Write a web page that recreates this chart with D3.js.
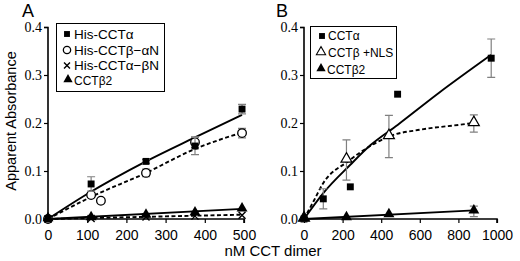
<!DOCTYPE html>
<html>
<head>
<meta charset="utf-8">
<script src="https://cdn.jsdelivr.net/npm/d3@7"></script>
<style>
  body { margin: 0; background: #fff; }
  svg { display: block; }
</style>
</head>
<body>
<div id="chart"></div>
<script>
// ---------- panel A data ----------
const concA = [0, 110, 250, 375, 495];
const hisAlpha = [0, 0.073, 0.12, 0.152, 0.229];
const hisAlphaErr = [0, 0.015, 0.004, 0.018, 0.01];
const concBetaAlphaN = [0, 110, 135, 250, 375, 495];
const hisBetaAlphaN = [0, 0.05, 0.038, 0.096, 0.16, 0.179];
const hisBetaAlphaNErr = [0, 0, 0, 0.008, 0.011, 0.01];
const hisAlphaBetaN = [0, 0.001, 0.004, 0.006, 0.008];
const beta2A = [0, 0.002, 0.007, 0.012, 0.02];

// fitted curves
const fitAlphaAX = [0, 100, 250, 375, 495];
const fitAlphaAY = [0, 0.052, 0.12, 0.17, 0.217];
const fitBetaAlphaNX = [0, 110, 250, 375, 495];
const fitBetaAlphaNY = [0, 0.046, 0.096, 0.146, 0.18];
const fitAlphaBetaNX = [0, 495];
const fitAlphaBetaNY = [0, 0.009];
const fitBeta2AX = [0, 495];
const fitBeta2AY = [0, 0.021];

// ---------- panel B data ----------
const concAlphaB = [0, 100, 240, 485, 970];
const alphaB = [0, 0.042, 0.067, 0.26, 0.335];
const alphaBErr = [0, 0.021, 0, 0, 0.04];
const concB = [0, 220, 440, 880];
const betaNlsB = [0, 0.123, 0.172, 0.199];
const betaNlsBErr = [0, 0.042, 0.044, 0.018];
const beta2B = [0, 0.002, 0.008, 0.016];
const beta2BErr = [0, 0, 0, 0.011];

const fitAlphaBX = [0, 100, 240, 345, 485, 700, 970];
const fitAlphaBY = [0, 0.054, 0.113, 0.154, 0.196, 0.263, 0.342];
const fitNlsBX = [0, 47, 100, 228, 327, 447, 600, 800, 880];
const fitNlsBY = [0, 0.035, 0.075, 0.12, 0.148, 0.173, 0.186, 0.196, 0.2];
const fitBeta2BX = [0, 880];
const fitBeta2BY = [0, 0.018];

const yTicks = [0, 0.1, 0.2, 0.3, 0.4];
const xTicksA = [0, 100, 200, 300, 400, 500];
const xTicksB = [0, 200, 400, 600, 800, 1000];

const serif = "'Liberation Serif', 'Times New Roman', serif";
const sans = "'Liberation Sans', Arial, sans-serif";

const w = 520, h = 261;
const svg = d3.select("#chart").append("svg").attr("width", w).attr("height", h);

const sq = d3.symbol().type(d3.symbolSquare).size(48);
const tri = d3.symbol().type(d3.symbolTriangle).size(52);

function zip(xs, ys, es) {
  return xs.map((x, i) => ({x: x, y: ys[i], e: es ? es[i] : 0}));
}

function panel(opts) {
  const g = svg.append("g");
  const x = d3.scaleLinear().domain(opts.xdom).range(opts.xrange);
  const y = d3.scaleLinear().domain([0, 0.4]).range([219, 27]);

  const yAxis = d3.axisLeft(y).tickValues(yTicks).tickFormat(d3.format(".1f")).tickSize(4).tickPadding(2);
  const xAxis = d3.axisBottom(x).tickValues(opts.xticks).tickFormat(d3.format("d")).tickSize(4).tickPadding(7);

  const ya = g.append("g").attr("transform", "translate(" + opts.xrange[0] + ",0)").call(yAxis);
  const xa = g.append("g").attr("transform", "translate(0,219)").call(xAxis);
  ya.attr("font-family", serif).attr("font-size", 14);
  xa.attr("font-family", sans).attr("font-size", 14);
  ya.selectAll("text").style("font-family", serif).style("font-size", "14px");
  xa.selectAll("text").style("font-family", sans).style("font-size", "14px");

  g.selectAll(".domain").attr("stroke", "#000").attr("stroke-width", 1.6);
  g.selectAll(".tick line").attr("stroke", "#000").attr("stroke-width", 1.2);
  g.selectAll(".tick text").attr("fill", "#000");
  ya.select(".domain").attr("d", "M-4,27.5H0V219.5");
  xa.select(".domain").attr("d", "M" + opts.xrange[0] + ",0H" + opts.xrange[1] + "V4");

  const line = d3.line().x(d => x(d.x)).y(d => y(d.y)).curve(d3.curveMonotoneX);

  // fit curves
  opts.fits.forEach(f => {
    g.append("path")
      .datum(zip(f.xs, f.ys))
      .attr("d", line)
      .attr("fill", "none")
      .attr("stroke", "#000")
      .attr("stroke-width", 1.9)
      .attr("stroke-dasharray", f.dash ? "4,2.5" : null);
  });

  // error bars + markers
  opts.series.forEach(s => {
    const pts = zip(s.xs, s.ys, s.es);
    pts.filter(p => p.e > 0).forEach(p => {
      const px = x(p.x);
      g.append("path")
        .attr("d", "M" + (px - 4) + "," + y(p.y + p.e) + "H" + (px + 4) +
                   "M" + px + "," + y(p.y + p.e) + "V" + y(p.y - p.e) +
                   "M" + (px - 4) + "," + y(p.y - p.e) + "H" + (px + 4))
        .attr("stroke", "#808080")
        .attr("stroke-width", 1.2)
        .attr("fill", "none");
    });
    pts.forEach(p => drawMarker(g, s.mark, x(p.x), y(p.y), 1));
  });

  g.append("text")
    .attr("x", opts.letterX).attr("y", 17)
    .style("font-family", sans)
    .style("font-size", "18px")
    .text(opts.letter);

  return g;
}

function drawMarker(g, mark, px, py, k) {
  if (mark === "square") {
    g.append("path").attr("d", sq).attr("transform", "translate(" + px + "," + py + ") scale(" + k + ")").attr("fill", "#000");
  } else if (mark === "circle") {
    g.append("circle").attr("cx", px).attr("cy", py).attr("r", 4.3 * k)
      .attr("fill", "#fff").attr("stroke", "#000").attr("stroke-width", 1.3);
  } else if (mark === "cross") {
    const r = 3.5 * k;
    g.append("path").attr("d", "M" + (px - r) + "," + (py - r) + "l" + 2 * r + "," + 2 * r + "M" + (px + r) + "," + (py - r) + "l" + -2 * r + "," + 2 * r)
      .attr("stroke", "#000").attr("stroke-width", 1.4);
  } else if (mark === "tri") {
    g.append("path").attr("d", tri).attr("transform", "translate(" + px + "," + (py - 1) + ") scale(" + k + ")").attr("fill", "#000");
  } else if (mark === "opentri") {
    g.append("path").attr("d", tri).attr("transform", "translate(" + px + "," + (py - 1) + ") scale(" + k + ")")
      .attr("fill", "#fff").attr("stroke", "#000").attr("stroke-width", 1.2);
  }
}

panel({
  letter: "A", letterX: 22,
  xdom: [0, 500], xrange: [48, 244], xticks: xTicksA,
  fits: [
    {xs: fitBeta2AX, ys: fitBeta2AY},
    {xs: fitAlphaBetaNX, ys: fitAlphaBetaNY, dash: true},
    {xs: fitBetaAlphaNX, ys: fitBetaAlphaNY, dash: true},
    {xs: fitAlphaAX, ys: fitAlphaAY}
  ],
  series: [
    {xs: concBetaAlphaN, ys: hisBetaAlphaN, es: hisBetaAlphaNErr, mark: "circle"},
    {xs: concA, ys: hisAlpha, es: hisAlphaErr, mark: "square"},
    {xs: concA, ys: hisAlphaBetaN, mark: "cross"},
    {xs: concA, ys: beta2A, mark: "tri"}
  ]
});

panel({
  letter: "B", letterX: 276,
  xdom: [0, 1000], xrange: [304, 497], xticks: xTicksB,
  fits: [
    {xs: fitBeta2BX, ys: fitBeta2BY},
    {xs: fitNlsBX, ys: fitNlsBY, dash: true},
    {xs: fitAlphaBX, ys: fitAlphaBY}
  ],
  series: [
    {xs: concAlphaB, ys: alphaB, es: alphaBErr, mark: "square"},
    {xs: concB, ys: betaNlsB, es: betaNlsBErr, mark: "opentri"},
    {xs: concB, ys: beta2B, es: beta2BErr, mark: "tri"}
  ]
});

// ---------- legends ----------
function legend(x0, y0, bw, bh, items, fs) {
  const lg = svg.append("g");
  lg.append("rect").attr("x", x0).attr("y", y0).attr("width", bw).attr("height", bh)
    .attr("fill", "#fff").attr("stroke", "#000").attr("stroke-width", 1);
  items.forEach(it => {
    drawMarker(lg, it.mark, it.mx, it.y, 0.85);
    lg.append("text")
      .attr("x", it.tx).attr("y", it.y).attr("dy", "0.36em")
      .style("font-family", sans)
      .style("font-size", (it.fs || fs) + "px")
      .text(it.label);
  });
}

const legendA = ["His-CCTα", "His-CCTβ−αN", "His-CCTα−βN", "CCTβ2"];
const legendB = ["CCTα", "CCTβ +NLS", "CCTβ2"];

legend(56.5, 23.5, 108, 68, [
  {mark: "square", mx: 67, y: 34, tx: 74, label: legendA[0]},
  {mark: "circle", mx: 67, y: 50, tx: 74, label: legendA[1]},
  {mark: "cross", mx: 67, y: 65.5, tx: 74, label: legendA[2]},
  {mark: "tri", mx: 68, y: 80.5, tx: 74, label: legendA[3], fs: 12}
], 13.5);

legend(310.5, 26.5, 86, 52, [
  {mark: "square", mx: 322, y: 36, tx: 328, label: legendB[0]},
  {mark: "opentri", mx: 321, y: 53, tx: 328, label: legendB[1]},
  {mark: "tri", mx: 321, y: 69.5, tx: 327, label: legendB[2]}
], 12);

// axis titles
svg.append("text")
  .attr("transform", "translate(16,121) rotate(-90)")
  .attr("text-anchor", "middle")
  .style("font-family", sans)
  .style("font-size", "14.5px")
  .text("Apparent Absorbance");

svg.append("text")
  .attr("x", 273).attr("y", 256)
  .attr("text-anchor", "middle")
  .style("font-family", sans)
  .style("font-size", "15px")
  .text("nM CCT dimer");
</script>
</body>
</html>
